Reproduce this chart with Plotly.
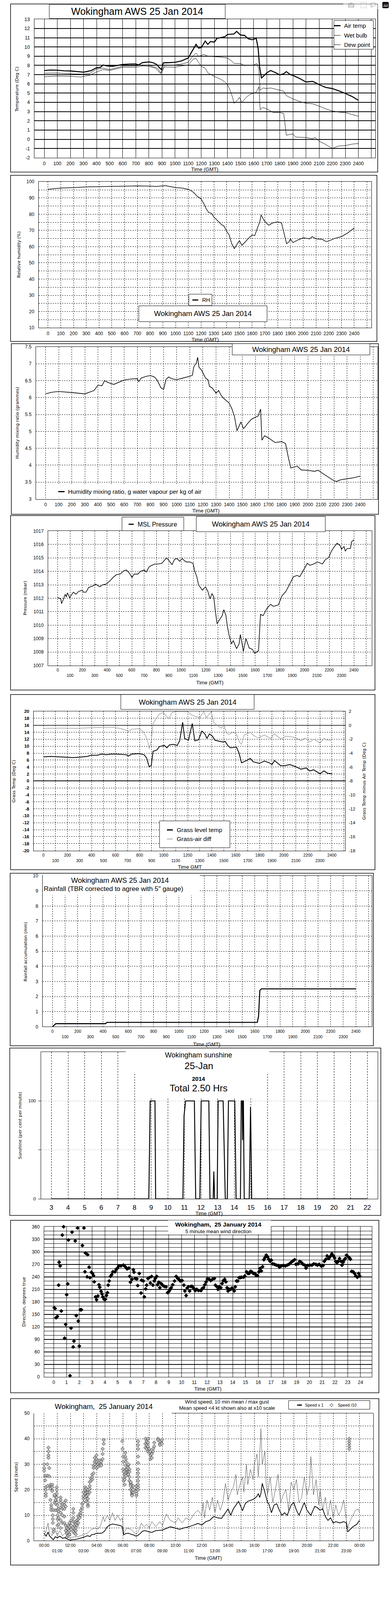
import plotly.graph_objects as go

FONT = "Liberation Sans, Arial, sans-serif"
TFONT = "DejaVu Sans, Verdana, sans-serif"
W, H = 1000, 5000          # reference coordinate system (positions below are read in it)
FIG_H = 4150               # rendered height (the photographed window shows about 4170 px)

# ======================= DATA =======================
hundreds = list(range(0, 2600, 100))

# Panel 1: temperatures (time HHMM, deg C)
air_obs = [(0,7.45),(50,7.5),(100,7.48),(150,7.42),(200,7.4),(250,7.35),(300,7.27),(330,7.35),(360,7.45),
           (400,7.75),(430,7.8),(450,8.04),(480,7.95),(520,7.9),(560,8.0),(600,8.1),(650,8.15),(700,8.16),
           (720,8.05),(750,8.3),(800,8.38),(830,8.3),(860,8.1),(880,7.75),(895,7.55),(910,8.28),(950,8.3),
           (1000,8.34),(1050,8.5),(1100,8.8),(1120,9.3),(1140,9.8),(1160,10.28),(1180,9.87),(1200,9.93),
           (1230,10.64),(1250,10.28),(1270,10.58),(1300,10.52),(1320,10.93),(1350,11.02),(1380,11.1),
           (1400,11.35),(1450,11.4),(1470,11.68),(1500,11.29),(1530,11.25),(1560,10.87),(1590,10.78),
           (1620,10.93),(1635,9.8),(1645,7.9),(1660,6.62),(1680,6.9),(1700,7.2),(1730,7.45),(1770,7.2),
           (1800,6.97),(1830,7.1),(1850,7.33),(1880,7.0),(1900,6.92),(1950,6.6),(2000,6.21),(2050,6.27),
           (2070,6.15),(2100,5.92),(2150,5.62),(2200,5.5),(2250,5.25),(2300,4.97),(2350,4.65),(2400,4.23)]
wet_obs = [(0,7.16),(100,7.18),(200,7.1),(300,7.05),(350,7.15),(400,7.6),(450,7.7),(500,7.55),(600,7.92),
           (700,7.95),(750,8.05),(800,8.0),(850,7.8),(870,7.6),(890,7.2),(920,8.05),(1000,8.04),(1050,8.15),
           (1100,8.34),(1130,8.9),(1160,9.34),(1180,8.98),(1220,9.2),(1250,9.0),(1300,8.95),(1350,8.9),
           (1400,8.8),(1430,8.5),(1450,8.22),(1500,8.2),(1530,7.98),(1600,8.05),(1625,8.2),(1640,7.6),
           (1650,5.3),(1670,5.56),(1700,5.5),(1730,5.56),(1800,5.32),(1830,5.2),(1850,4.73),(1900,4.38),
           (1950,4.1),(2000,3.9),(2050,3.85),(2100,3.6),(2150,3.3),(2200,3.08),(2250,2.95),(2300,2.9),
           (2350,2.7),(2400,2.5)]
dew_obs = [(0,6.78),(100,6.85),(200,6.82),(280,6.75),(350,6.95),(400,7.3),(450,7.55),(500,7.45),(600,7.8),
           (700,7.8),(750,7.95),(800,7.9),(850,7.7),(890,7.1),(920,7.85),(1000,7.8),(1050,7.95),(1100,8.05),
           (1140,8.7),(1160,8.75),(1180,8.3),(1200,7.9),(1230,7.7),(1250,7.2),(1300,6.8),(1350,6.5),
           (1380,6.2),(1400,5.95),(1420,5.3),(1440,4.5),(1450,3.9),(1480,4.3),(1490,4.55),(1510,4.0),
           (1540,4.5),(1570,4.85),(1600,5.0),(1620,5.1),(1640,5.7),(1650,3.2),(1670,3.45),(1700,3.3),
           (1750,2.9),(1800,2.9),(1830,2.8),(1850,0.45),(1900,0.6),(1920,0.25),(2000,0.2),(2050,0.07),
           (2070,0.2),(2100,-0.2),(2150,-0.55),(2200,-0.98),(2250,-0.72),(2300,-0.68),(2350,-0.52),(2400,-0.45)]
temp_ticks = list(range(-2, 14))

# Panel 2: relative humidity (%)
rh_obs = [(0,95.4),(100,96.1),(200,96.4),(300,96.8),(400,97.0),(500,97.1),(600,97.3),(700,97.4),(800,97.3),
          (850,97.1),(920,97.6),(950,97.1),(1000,96.4),(1050,96.1),(1100,95.3),(1130,94.1),(1150,92.7),
          (1170,91.0),(1200,89.4),(1220,86.7),(1240,83.3),(1260,81.0),(1280,80.6),(1300,78.3),(1330,75.9),
          (1360,73.6),(1380,72.6),(1400,69.5),(1420,67.2),(1440,61.8),(1460,58.8),(1480,61.1),(1500,63.7),
          (1520,60.8),(1540,62.5),(1580,65.8),(1600,67.2),(1620,66.8),(1640,71.2),(1660,75.3),(1670,79.6),
          (1690,76.6),(1710,74.6),(1730,73.2),(1760,74.6),(1800,75.3),(1830,74.6),(1850,68.5),(1870,61.8),
          (1890,63.1),(1900,64.8),(1920,62.5),(1950,63.8),(2000,65.5),(2050,64.8),(2070,66.2),(2100,64.8),
          (2150,64.5),(2180,63.1),(2200,63.5),(2250,65.2),(2300,66.2),(2350,68.5),(2400,71.5)]
rh_ticks = list(range(10, 101, 5))

# Panel 3: humidity mixing ratio (g/kg)
mr_obs = [(0,6.11),(50,6.16),(100,6.18),(200,6.15),(300,6.11),(350,6.18),(370,6.21),(400,6.37),(430,6.35),
          (450,6.5),(480,6.44),(520,6.39),(550,6.44),(600,6.52),(650,6.55),(700,6.56),(710,6.47),(730,6.58),
          (770,6.63),(800,6.65),(830,6.61),(850,6.52),(880,6.29),(900,6.24),(920,6.55),(940,6.61),(960,6.56),
          (1000,6.53),(1050,6.58),(1100,6.63),(1120,6.66),(1130,6.9),(1140,6.97),(1150,7.02),(1160,7.19),
          (1170,6.9),(1190,6.81),(1200,6.73),(1220,6.58),(1240,6.52),(1250,6.33),(1270,6.29),(1300,6.13),
          (1320,6.21),(1340,6.06),(1360,5.97),(1400,5.84),(1420,5.68),(1440,5.45),(1460,5.02),(1490,5.28),
          (1510,5.08),(1540,5.23),(1570,5.36),(1600,5.42),(1620,5.45),(1640,5.66),(1650,4.74),(1670,4.87),
          (1700,4.81),(1750,4.67),(1800,4.7),(1830,4.64),(1850,4.26),(1870,3.92),(1900,3.95),(1920,3.97),
          (1950,3.86),(2000,3.85),(2050,3.82),(2080,3.85),(2100,3.79),(2150,3.67),(2200,3.54),(2220,3.52),
          (2250,3.57),(2300,3.6),(2350,3.63),(2400,3.68)]
mr_ticks = [3, 3.5, 4, 4.5, 5, 5.5, 6, 6.5, 7, 7.5]

# Panel 4: MSL pressure (mbar)
p_obs = [(0,1012.05),(25,1011.95),(31,1011.6),(45,1011.9),(61,1012.3),(70,1012.1),(78,1012.4),(90,1012.2),
         (98,1012.0),(107,1012.2),(127,1012.45),(148,1012.3),(168,1012.5),(199,1012.6),(209,1012.45),
         (230,1012.45),(250,1012.8),(281,1012.9),(307,1013.05),(342,1012.85),(363,1013.0),(393,1013.05),
         (424,1013.3),(449,1013.55),(475,1013.75),(506,1013.8),(537,1014.05),(557,1014.1),(582,1013.85),
         (602,1013.55),(619,1013.8),(650,1013.8),(670,1014.0),(701,1014.1),(717,1013.95),(742,1014.35),
         (762,1014.45),(787,1014.55),(814,1014.55),(844,1014.6),(881,1015.0),(902,1014.8),(926,1014.5),
         (947,1014.9),(967,1014.95),(988,1014.75),(1008,1014.95),(1039,1014.7),(1070,1014.7),(1096,1014.6),
         (1111,1014.0),(1127,1013.6),(1141,1013.0),(1172,1012.6),(1197,1012.85),(1217,1012.5),(1234,1011.95),
         (1250,1012.35),(1264,1012.1),(1275,1011.2),(1291,1010.1),(1311,1010.4),(1332,1010.7),(1346,1011.15),
         (1363,1010.7),(1373,1010.0),(1387,1009.3),(1408,1008.6),(1422,1008.85),(1449,1008.25),(1469,1008.6),
         (1480,1009.3),(1504,1008.05),(1525,1009.0),(1551,1008.3),(1578,1008.2),(1596,1007.9),(1627,1008.1),
         (1643,1010.8),(1664,1010.7),(1695,1011.25),(1725,1011.55),(1746,1011.4),(1787,1011.5),(1818,1012.2),
         (1848,1012.5),(1889,1013.2),(1910,1013.6),(1940,1013.7),(1961,1013.6),(1992,1014.1),(2022,1014.6),
         (2043,1014.45),(2074,1014.55),(2105,1014.7),(2145,1014.55),(2166,1014.85),(2197,1015.05),
         (2217,1015.5),(2238,1015.8),(2264,1016.1),(2289,1015.9),(2299,1015.65),(2320,1015.85),(2330,1015.5),
         (2344,1015.7),(2371,1015.7),(2381,1016.2),(2400,1016.35)]
p_ticks = list(range(1007, 1018))

# Panel 5: grass temperature and grass-air difference (deg C)
grass_obs = [(0,6.94),(59,7.04),(164,6.88),(248,6.71),(312,6.88),(364,7.04),(396,7.38),(448,7.38),(480,7.71),
             (522,7.54),(564,7.71),(606,7.71),(690,7.54),(707,7.14),(733,7.71),(796,7.87),(838,7.54),(859,6.55),
             (880,4.05),(897,4.49),(912,8.54),(943,8.87),(964,9.87),(1006,10.2),(1027,9.54),(1048,10.37),
             (1080,10.53),(1112,10.2),(1133,11.53),(1143,13.52),(1158,16.85),(1175,12.2),(1206,11.7),(1238,16.51),
             (1259,11.53),(1291,11.86),(1318,14.35),(1343,13.52),(1360,12.2),(1381,13.52),(1406,12.86),
             (1427,11.7),(1491,11.2),(1512,11.37),(1533,10.2),(1554,9.54),(1606,9.7),(1627,8.04),(1648,5.22),
             (1690,5.88),(1722,6.48),(1743,5.55),(1796,5.05),(1838,5.71),(1880,5.22),(1901,4.72),(1922,5.88),
             (1975,4.38),(2006,4.38),(2048,4.72),(2091,4.22),(2143,3.39),(2185,3.72),(2217,2.89),(2248,3.22),
             (2301,2.06),(2333,2.89),(2364,2.23),(2400,2.06)]
diff_obs = [(0,-0.44),(164,-0.41),(270,-0.44),(480,-0.32),(522,-0.27),(585,-0.32),(648,-0.49),(690,-0.74),
            (707,-0.9),(733,-0.57),(796,-0.49),(827,-0.82),(855,-1.73),(870,-2.56),(880,-3.39),(897,-2.23),
            (912,0.26),(943,1.09),(964,1.58),(995,1.83),(1027,1.25),(1044,0.92),(1069,1.83),(1112,2.0),
            (1154,2.0),(1196,2.0),(1238,1.42),(1269,1.25),(1301,1.09),(1333,2.0),(1354,1.09),(1396,1.92),
            (1417,0.42),(1448,-0.07),(1480,-0.41),(1501,0.09),(1522,-1.07),(1543,-1.32),(1575,-0.99),
            (1606,-1.24),(1620,-1.98),(1637,-2.56),(1648,-2.73),(1669,-1.4),(1690,-1.24),(1722,-0.99),
            (1743,-1.4),(1785,-1.82),(1838,-1.4),(1890,-1.9),(1922,-1.24),(1975,-1.98),(2017,-1.57),
            (2059,-1.65),(2101,-1.82),(2143,-2.23),(2175,-1.82),(2217,-2.4),(2248,-1.98),(2301,-2.56),
            (2333,-1.9),(2364,-2.15),(2400,-2.15)]
grass_ticks = list(range(-20, 21, 2))
diff_ticks = list(range(-18, 3, 2))

# Panel 6: rainfall accumulation (mm)
rain_obs = [(0,0.0),(12,0.1),(26,0.2),(420,0.2),(430,0.29),(1620,0.29),(1630,0.7),(1640,2.4),(1652,2.51),(2400,2.51)]
rain_ticks = list(range(0, 11))

# Panel 7: sunshine (per cent per minute, hours GMT)
sun_obs = [(3.0,0),(8.86,0),(8.94,100),(9.23,100),(9.27,0),(10.91,0),(10.98,85),(11.07,100),(11.6,100),
           (11.68,0),(11.93,0),(12.01,100),(12.47,100),(12.54,0),(12.73,0),(12.77,28),(12.82,0),(12.97,0),
           (13.03,100),(13.33,100),(13.46,0),(13.58,0),(13.65,100),(14.03,100),(14.11,0),(14.37,0),
           (14.42,100),(14.48,100),(14.5,60),(14.52,100),(14.55,100),(14.6,0),(14.9,0),(14.98,94),(15.05,0),(22.0,0)]
sun_hours = list(range(3, 23))

# Panel 8: 5-minute mean wind direction (hours, degrees true)
dir_obs = [(0.04,166),(0.1,164),(0.18,142),(0.28,145),(0.38,220),(0.42,275),(0.5,266),(0.59,158),(0.67,340),
           (0.77,360),(0.85,93),(0.93,126),(1.01,197),(1.09,223),(1.15,328),(1.27,3),(1.35,117),(1.43,347),
           (1.52,72),(1.58,86),(1.68,326),(1.76,147),(1.86,357),(1.92,134),(2.0,74),(2.08,161),(2.16,161),
           (2.24,315),(2.36,357),(2.44,252),(2.48,297),(2.61,240),(2.65,293),(2.77,263),(2.83,238),(2.95,251),
           (3.03,248),(3.11,243),(3.17,228),(3.27,192),(3.35,185),(3.45,194),(3.54,221),(3.6,215),(3.7,205),
           (3.78,199),(3.84,192),(3.94,186),(4.04,186),(4.12,195),(4.2,202),(4.26,220),(4.34,230),(4.44,241),
           (4.53,245),(4.63,252),(4.79,252),(4.89,258),(4.99,261),(5.09,266),(5.25,266),(5.45,268),(5.6,264),
           (5.74,259),(5.88,261),(5.94,241),(6.0,227),(6.12,234),(6.22,257),(6.28,251),(6.38,236),(6.5,235),
           (6.57,219),(6.69,248),(6.83,201),(6.87,232),(7.01,230),(7.09,192),(7.19,211),(7.27,220),(7.37,236),
           (7.47,238),(7.56,225),(7.66,241),(7.76,220),(7.86,230),(7.94,236),(8.06,241),(8.12,221),(8.22,227),
           (8.3,214),(8.4,224),(8.51,220),(8.65,217),(8.79,216),(8.91,202),(9.01,205),(9.11,210),(9.19,214),
           (9.31,221),(9.45,230),(9.58,241),(9.7,236),(9.8,234),(9.9,230),(10.04,231),(10.18,220),(10.26,206),
           (10.36,195),(10.44,213),(10.53,216),(10.63,206),(10.73,217),(10.83,217),(10.97,212),(11.07,207),
           (11.19,210),(11.33,207),(11.52,207),(11.62,212),(11.72,214),(11.82,221),(11.92,228),(12.02,235),
           (12.16,234),(12.28,231),(12.42,234),(12.57,236),(12.65,220),(12.75,217),(12.85,210),(12.95,216),
           (13.07,214),(13.17,224),(13.27,231),(13.37,234),(13.47,228),(13.56,214),(13.64,206),(13.74,210),
           (13.84,210),(13.94,213),(14.04,210),(14.12,206),(14.2,216),(14.3,230),(14.4,230),(14.5,238),
           (14.59,238),(14.69,239),(14.85,239),(14.95,242),(15.09,252),(15.19,248),(15.29,248),(15.39,253),
           (15.49,252),(15.62,248),(15.74,248),(15.84,243),(15.94,243),(16.06,252),(16.14,260),(16.24,254),
           (16.34,264),(16.44,281),(16.53,286),(16.63,292),(16.73,288),(16.83,282),(16.93,277),(17.03,280),
           (17.13,271),(17.27,270),(17.41,268),(17.56,267),(17.66,263),(17.8,266),(17.96,267),(18.12,266),
           (18.26,268),(18.4,270),(18.55,274),(18.71,278),(18.85,281),(18.95,270),(19.11,271),(19.25,277),
           (19.39,274),(19.5,270),(19.64,268),(19.74,261),(19.88,267),(20.04,268),(20.2,268),(20.34,271),
           (20.5,270),(20.63,268),(20.77,270),(20.93,266),(21.07,267),(21.17,277),(21.29,282),(21.39,290),
           (21.52,284),(21.64,289),(21.76,295),(21.88,290),(21.98,285),(22.06,277),(22.16,274),(22.26,277),
           (22.36,284),(22.48,277),(22.55,268),(22.65,275),(22.71,280),(22.81,284),(22.91,292),(23.03,288),
           (23.15,285),(23.21,282),(23.31,253),(23.43,252),(23.54,248),(23.64,242),(23.76,239),(23.86,248),
           (23.94,242)]
hours24 = list(range(0, 25))

# Panel 9: wind speed (hours, knots)
mean_obs = [(0.0,2.9),(0.15,1.8),(0.3,3.4),(0.4,2.0),(0.55,1.2),(0.7,0.4),(0.85,1.6),(1.0,1.2),(1.2,1.8),
            (1.4,1.0),(1.6,1.2),(1.8,0.6),(2.0,0.3),(2.2,0.5),(2.4,0.5),(2.6,0.8),(2.8,1.1),(3.0,1.4),(3.3,2.0),
            (3.5,1.7),(3.6,2.4),(3.8,2.5),(4.0,3.0),(4.2,2.9),(4.4,3.0),(4.6,3.8),(4.8,5.5),(5.0,6.2),(5.2,6.6),
            (5.5,6.3),(5.8,6.0),(5.95,5.5),(6.05,2.4),(6.2,2.8),(6.4,3.0),(6.6,2.6),(6.8,2.3),(7.0,1.8),(7.1,2.0),
            (7.3,2.8),(7.5,3.8),(7.7,4.0),(8.0,3.5),(8.2,3.3),(8.5,4.0),(9.0,4.2),(9.3,4.8),(9.6,5.5),(10.0,5.0),
            (10.3,4.5),(10.6,5.0),(11.0,5.5),(11.3,6.0),(11.7,6.8),(12.0,6.2),(12.3,7.5),(12.6,8.0),(12.9,9.5),
            (13.2,9.0),(13.5,8.8),(13.8,11.0),(14.0,12.5),(14.2,10.0),(14.4,12.5),(14.6,14.0),(14.8,15.5),
            (15.0,13.0),(15.1,11.8),(15.3,14.5),(15.5,15.5),(15.8,16.0),(16.0,16.5),(16.2,17.5),(16.3,18.5),
            (16.4,17.0),(16.5,18.5),(16.6,22.5),(16.8,19.0),(17.0,15.0),(17.1,14.5),(17.3,11.0),(17.5,14.0),
            (17.7,14.5),(17.9,12.0),(18.1,10.0),(18.3,11.0),(18.5,10.0),(18.8,14.0),(19.0,15.0),(19.2,12.0),
            (19.4,10.0),(19.6,12.5),(19.8,15.0),(20.0,12.0),(20.3,10.0),(20.6,13.5),(20.8,13.0),(21.0,12.0),
            (21.2,12.5),(21.4,9.5),(21.6,8.0),(21.8,9.0),(22.0,7.0),(22.2,7.5),(22.5,7.0),(22.8,7.5),(23.0,7.0),
            (23.1,3.5),(23.3,4.5),(23.5,5.5),(23.8,6.5),(24.0,8.0)]
gust_obs = [(0.0,4),(0.1,3),(0.3,7),(0.4,3),(0.6,2),(0.8,5),(1.0,2),(1.2,4),(1.4,2),(1.6,3),(1.8,1.5),(2.0,1),
            (2.2,1.5),(2.5,1.5),(2.8,2),(3.0,2.5),(3.3,3),(3.6,4.5),(3.9,5),(4.1,4.5),(4.3,6),(4.5,9.5),(4.6,7.5),
            (4.8,10),(5.0,8),(5.2,11),(5.4,8),(5.6,10),(5.8,8),(5.95,9),(6.05,3),(6.3,5),(6.6,4.5),(6.8,3.5),
            (7.0,2.5),(7.2,4),(7.4,7),(7.6,5.5),(7.8,6.5),(8.0,5),(8.2,7.5),(8.5,5.5),(8.8,7.5),(9.0,6),(9.3,10.5),
            (9.6,8),(10.0,7),(10.2,9),(10.5,7),(10.8,9),(11.1,8),(11.4,10.5),(11.7,12),(12.0,10),(12.1,15),
            (12.2,9),(12.4,16),(12.6,12),(12.8,17),(13.0,11),(13.2,16),(13.4,12),(13.6,15),(13.8,22.5),(14.0,16),
            (14.2,19),(14.4,21),(14.6,26),(14.7,18),(14.9,22),(15.1,25),(15.2,19),(15.4,30),(15.5,22),(15.7,28),
            (15.9,24),(16.0,30),(16.2,34),(16.3,25),(16.45,38),(16.5,44),(16.6,30),(16.8,35),(16.9,22),(17.0,18),
            (17.2,25),(17.4,15),(17.6,20),(17.8,26),(18.0,15),(18.2,18),(18.4,20),(18.6,12),(18.8,23),(19.0,20),
            (19.2,24),(19.4,15),(19.6,17),(19.8,25),(20.0,18),(20.2,22),(20.3,33),(20.5,18),(20.7,24),(20.9,14),
            (21.0,20),(21.2,12),(21.4,17),(21.6,10),(21.8,16),(22.0,9),(22.2,14),(22.4,10),(22.6,12),(22.8,16),
            (23.0,8),(23.1,5),(23.3,8),(23.5,10),(23.7,12),(23.9,12.5),(24.0,11)]
x10_obs = [(0.00,[30,28.5,27.5]),(0.08,[25.5,23.7]),(0.13,[21,20,18.5,17.5]),(0.25,[21.5,25.5,30]),
           (0.33,[36.5,35,33.5,32.5]),(0.39,[28.5,25.3]),(0.48,[22,21,20.5,16]),(0.54,[14,13,12]),
           (0.62,[22,21,19.5]),(0.66,[10,8.5,7]),(0.71,[4.5,3.5,12]),(0.79,[15,17.5,18]),(0.87,[16,14.5,12]),
           (0.96,[21,20,18.5,17,15]),(1.02,[14,12,10,8.5,6]),(1.10,[12.5,11.5,9,6.5]),
           (1.25,[17,16,15,13,11,8,5]),(1.39,[14,12.5,10,7]),(1.54,[15,14,12.5,9.5,7]),(1.64,[15.8,13.5,6,4]),
           (1.73,[5,3,1.5]),(1.83,[6,4.5,3.5,2]),(1.93,[7,5.5,4,2.5]),(2.06,[8,6,4.5]),
           (2.22,[12.5,11,9,7.5,5,3.5]),(2.33,[7,6,4.5,3]),(2.41,[7.5,6.5,5,4,2.5]),(2.50,[6,8,7]),
           (2.60,[7,8.5,9.5]),(2.70,[9,10.5]),(2.79,[10,11,12]),(2.89,[13,14.5]),(2.99,[15,16.5,17.5,19]),
           (3.12,[17,18.5,20,21]),(3.22,[17.5,19,20.5,15.5]),(3.33,[14,13.5,15,16.5,18,19,20]),
           (3.47,[19,20.5,21.5,23]),(3.56,[23.5,24.5]),(3.66,[24,25,26]),(3.76,[26.5,28.5,29.5]),
           (3.85,[30,31,32.5]),(3.99,[33.5,32,31,29.5,28.5]),(4.10,[30,31.5,29]),(4.24,[31.5,30,29.5]),
           (4.34,[30,31,29.5]),(4.45,[32,34,36]),(4.53,[38,39.5]),(5.95,[39]),(5.97,[36]),(6.01,[33,31,28]),
           (6.05,[27,24.5,23.5]),(6.13,[26,25,24,22]),(6.17,[34.5,33]),(6.22,[32,31,29.5,28,26.5,25.5]),
           (6.30,[27,28]),(6.40,[29.5,30,28.5,27,26]),(6.49,[28,27,25,23.5]),(6.59,[22.5,22,23,21.5,20]),
           (6.69,[19,18.5,18,17.7,19.5,20.5]),(6.78,[19,20,21.5]),(7.03,[17.7,18.5,19.5,20.5,21.5]),
           (7.15,[20,21,22,23.5,25,26.5,28,30.5,33,36,37.5,39]),(7.71,[40,38,36.5]),(7.80,[39,37.5,36]),
           (7.90,[40,38.5,37,35]),(8.00,[36,34.5]),(8.09,[35,33.5,32]),(8.19,[34,32.5]),(8.29,[36,35]),
           (8.38,[38.5,37]),(8.67,[40,39.5]),(8.81,[39,38,37.5]),(8.96,[39.5,38]),(23.22,[40,39,38,37,36])]
speed_ticks = list(range(0, 51, 5))

# ======================= HELPERS =======================
def xs(obs): return [p[0] for p in obs]
def ys(obs): return [p[1] for p in obs]

layout = dict(width=W, height=FIG_H, margin=dict(l=0, r=0, t=0, b=0), paper_bgcolor='white',
              plot_bgcolor='rgba(0,0,0,0)', showlegend=False, font=dict(family=FONT, size=13, color='black'))
shapes, annotations, traces = [], [], []

def axkey(p, n): return p + ('axis' if n == 1 else 'axis%d' % n)
def ref(p, n): return p if n == 1 else '%s%d' % (p, n)

def base(size=12):
    return dict(showline=True, linecolor='black', linewidth=1, mirror=True, ticks='', showgrid=True,
                gridcolor='black', gridwidth=1, zeroline=False, fixedrange=True,
                tickfont=dict(family=FONT, size=size, color='black'))

def set_axes(n, px0, px1, py0, py1, xr, yr, xkw, ykw):
    xa = base(); xa.update(domain=[px0 / W, px1 / W], range=xr, anchor=ref('y', n)); xa.update(xkw)
    ya = base(); ya.update(domain=[1 - py1 / H, 1 - py0 / H], range=yr, anchor=ref('x', n)); ya.update(ykw)
    layout[axkey('x', n)] = xa
    layout[axkey('y', n)] = ya

def text(x, y, s, size=13, family=FONT, xanchor='center', angle=0):
    annotations.append(dict(x=x / W, y=1 - y / H, xref='paper', yref='paper', text=s, showarrow=False,
                            xanchor=xanchor, yanchor='middle', textangle=angle,
                            font=dict(family=family, size=size, color='black')))

def rect(x0, y0, x1, y1, fill='rgba(0,0,0,0)', lw=1, layer='above'):
    shapes.append(dict(type='rect', xref='paper', yref='paper', x0=x0 / W, x1=x1 / W, y0=1 - y1 / H,
                       y1=1 - y0 / H, fillcolor=fill, layer=layer,
                       line=dict(color='black', width=lw)))

def hline(x0, x1, y, lw, color='black'):
    shapes.append(dict(type='line', xref='paper', yref='paper', x0=x0 / W, x1=x1 / W, y0=1 - y / H,
                       y1=1 - y / H, layer='above', line=dict(color=color, width=lw)))

def ytitle(x, y, s):
    text(x, y, s, size=11, family=TFONT, angle=-90)

def hund_labels(two_rows=False):
    out = []
    for v in hundreds:
        if v > 2400:
            out.append('')
        elif two_rows and (v // 100) % 2 == 1:
            out.append('<br>%d' % v)
        else:
            out.append(str(v))
    return out

XSTAND = 3
YSTAND = 8
TWO_ROW_FONT = dict(family=FONT, size=10.5, color='black')

# ======================= PANEL 1 =======================
rect(27, 4, 966, 524, lw=1.5, layer='below')
set_axes(1, 88, 960, 51, 480, [-75, 2530], [-2, 13],
         dict(tickmode='array', tickvals=hundreds, ticktext=hund_labels(), ticklabelstandoff=XSTAND,
              tickfont=dict(family=FONT, size=12.5, color='black')),
         dict(tickmode='array', tickvals=temp_ticks, ticktext=[str(v) for v in temp_ticks], gridwidth=2,
              ticklabelstandoff=YSTAND, tickfont=dict(family=FONT, size=12.5, color='black')))
traces.append(go.Scatter(x=xs(air_obs), y=ys(air_obs), mode='lines', line=dict(color='black', width=2.6), xaxis='x', yaxis='y', name='Air temp'))
traces.append(go.Scatter(x=xs(wet_obs), y=ys(wet_obs), mode='lines', line=dict(color='black', width=1), xaxis='x', yaxis='y', name='Wet bulb'))
traces.append(go.Scatter(x=xs(dew_obs), y=ys(dew_obs), mode='lines', line=dict(color='black', width=1), xaxis='x', yaxis='y', name='Dew point'))
rect(126, 5, 576, 49, fill='white')
text(351, 27, 'Wokingham AWS 25 Jan 2014', size=25)
rect(854, 55, 955, 144, fill='white')
for yy, lab, lw in [(71, 'Air temp', 3), (101, 'Wet bulb', 1), (130, 'Dew point', 1)]:
    hline(854, 871, yy, lw)
    text(878, yy, lab, size=15, xanchor='left')
text(524, 515, 'Time (GMT)', size=13)
ytitle(44, 268, 'Temperature (Deg C)')

# ======================= PANEL 2 =======================
rect(27, 534, 964, 1048, lw=1.5, layer='below')
set_axes(2, 99, 950, 554, 1006, [-73, 2535], [10, 100],
         dict(tickmode='array', tickvals=hundreds, ticktext=hund_labels(), griddash='dot', ticklabelstandoff=XSTAND),
         dict(tickmode='array', tickvals=rh_ticks, ticktext=[str(v) if v % 10 == 0 else '' for v in rh_ticks],
              griddash='dot', ticklabelstandoff=YSTAND))
traces.append(go.Scatter(x=xs(rh_obs), y=ys(rh_obs), mode='lines', line=dict(color='black', width=1.5), xaxis='x2', yaxis='y2', name='RH'))
rect(483, 902, 542, 937, fill='white')
hline(492, 507, 920, 3)
text(515, 920, 'RH', size=14, xanchor='left')
rect(355, 938, 683, 987, fill='white')
text(519, 962, 'Wokingham AWS 25 Jan 2014', size=18.5)
text(525, 1043, 'Time (GMT)', size=13)
ytitle(48, 780, 'Relative humidity (%)')

# ======================= PANEL 3 =======================
rect(29, 1055, 968, 1583, lw=1.5, layer='below')
set_axes(3, 92, 966, 1065, 1536, [-73, 2533], [3, 7.5],
         dict(tickmode='array', tickvals=hundreds, ticktext=hund_labels(), griddash='dot', ticklabelstandoff=XSTAND),
         dict(tickmode='array', tickvals=mr_ticks, ticktext=[('%g' % v) for v in mr_ticks],
              griddash='dot', ticklabelstandoff=YSTAND))
traces.append(go.Scatter(x=xs(mr_obs), y=ys(mr_obs), mode='lines', line=dict(color='black', width=1.6), xaxis='x3', yaxis='y3', name='Humidity mixing ratio'))
rect(594, 1055, 946, 1090, fill='white')
text(770, 1073, 'Wokingham AWS 25 Jan 2014', size=18.5)
rect(143, 1493, 537, 1532, fill='white', lw=0)
hline(149, 165, 1513, 3)
text(172, 1513, 'Humidity mixing ratio, g water vapour per kg of air', size=15.5, xanchor='left')
text(527, 1572, 'Time (GMT)', size=13)
ytitle(44, 1300, 'Humidity mixing ratio (grammes)')

# ======================= PANEL 4 =======================
rect(27, 1587, 959, 2127, lw=1.5, layer='below')
set_axes(4, 123, 951, 1635, 2051, [-78, 2545], [1007, 1017],
         dict(tickmode='array', tickvals=hundreds, ticktext=hund_labels(True), griddash='dot',
              ticklabelstandoff=2, tickfont=TWO_ROW_FONT),
         dict(tickmode='array', tickvals=p_ticks, ticktext=[str(v) for v in p_ticks],
              griddash='dot', ticklabelstandoff=YSTAND))
traces.append(go.Scatter(x=xs(p_obs), y=ys(p_obs), mode='lines', line=dict(color='black', width=1.6), xaxis='x4', yaxis='y4', name='MSL Pressure'))
rect(312, 1592, 470, 1634, fill='white')
hline(329, 342, 1614, 3)
text(350, 1614, 'MSL Pressure', size=16, xanchor='left')
rect(502, 1590, 832, 1637, fill='white')
text(667, 1613, 'Wokingham AWS 25 Jan 2014', size=18.5)
text(537, 2104, 'Time (GMT)', size=13)
ytitle(65, 1842, 'Pressure (mbar)')

# ======================= PANEL 5 =======================
rect(27, 2141, 959, 2683, lw=1.5, layer='below')
set_axes(5, 86, 883, 2193, 2624, [-82, 2511], [-20, 20],
         dict(tickmode='array', tickvals=hundreds, ticktext=hund_labels(True), griddash='dot',
              ticklabelstandoff=2, tickfont=TWO_ROW_FONT),
         dict(tickmode='array', tickvals=grass_ticks, ticktext=['<b>%d</b>' % v for v in grass_ticks],
              griddash='dot', ticklabelstandoff=YSTAND, zeroline=True, zerolinecolor='black', zerolinewidth=1.5,
              tickfont=dict(family=FONT, size=11.5, color='black')))
layout['yaxis10'] = dict(overlaying='y5', side='right', anchor='x5', range=[-18, 2], tickmode='array',
                         tickvals=diff_ticks, ticktext=[str(v) for v in diff_ticks], showgrid=False,
                         showline=False, zeroline=False, ticks='', fixedrange=True, ticklabelstandoff=YSTAND,
                         tickfont=dict(family=FONT, size=11.5, color='black'))
shapes.append(dict(type='line', xref='x5 domain', yref='y10', x0=0, x1=1, y0=0, y1=0, layer='below',
                   line=dict(color='black', width=1.5)))
traces.append(go.Scatter(x=xs(diff_obs), y=ys(diff_obs), mode='lines', line=dict(color='#8c8c8c', width=1.2), xaxis='x5', yaxis='y10', name='Grass-air diff'))
traces.append(go.Scatter(x=xs(grass_obs), y=ys(grass_obs), mode='lines', line=dict(color='black', width=2), xaxis='x5', yaxis='y5', name='Grass level temp'))
rect(309, 2141, 650, 2187, fill='white')
text(480, 2164, 'Wokingham AWS 25 Jan 2014', size=18.5)
rect(408, 2532, 588, 2615, fill='white')
hline(427, 442, 2560, 3)
text(450, 2560, 'Grass level temp', size=15.5, xanchor='left')
hline(427, 442, 2588, 1.5, '#8c8c8c')
text(450, 2588, 'Grass-air diff', size=15.5, xanchor='left')
text(485, 2675, 'Time GMT', size=13)
ytitle(36, 2409, 'Grass Temp (Deg C)')
ytitle(932, 2409, 'Grass Temp minus Air Temp (Deg C)')

# ======================= PANEL 6 =======================
rect(26, 2694, 955, 3228, lw=1.5, layer='below')
set_axes(6, 109, 951, 2702, 3169, [-78, 2526], [0, 10],
         dict(tickmode='array', tickvals=hundreds, ticktext=hund_labels(True), griddash='dot',
              ticklabelstandoff=2, tickfont=TWO_ROW_FONT),
         dict(tickmode='array', tickvals=rain_ticks, ticktext=[str(v) for v in rain_ticks],
              griddash='dot', ticklabelstandoff=YSTAND))
traces.append(go.Scatter(x=xs(rain_obs), y=ys(rain_obs), mode='lines', line=dict(color='black', width=2.6), xaxis='x6', yaxis='y6', name='Rainfall'))
rect(110, 2700, 511, 2762, fill='white', lw=0)
text(307, 2716, 'Wokingham AWS 25 Jan 2014', size=18.5)
text(110, 2742, 'Rainfall (TBR corrected to agree with 5" gauge)', size=17, xanchor='left')
text(529, 3223, 'Time (GMT)', size=13)
ytitle(65, 2937, 'Rainfall accumulation (mm)')

# ======================= PANEL 7 =======================
rect(25, 3235, 974, 3753, lw=1.5, layer='below')
set_axes(7, 105, 966, 3247, 3702, [2.376, 22.63], [0, 150],
         dict(tickmode='array', tickvals=sun_hours, ticktext=[str(v) for v in sun_hours], griddash='4px,3px',
              ticklabelstandoff=6, tickfont=dict(family=FONT, size=17, color='black')),
         dict(tickmode='array', tickvals=[0, 50, 100], ticktext=['0', '', '100'], gridcolor='#b4b4b4',
              griddash='dot', ticks='outside', ticklen=6, tickcolor='black', ticklabelstandoff=4,
              tickfont=dict(family=FONT, size=11.5, color='black')))
traces.append(go.Scatter(x=xs(sun_obs), y=ys(sun_obs), mode='lines', line=dict(color='black', width=2.4), xaxis='x7', yaxis='y7', name='Sunshine'))
shapes.append(dict(type='rect', xref='x7', yref='paper', x0=7.48, x1=16.1, y0=1 - 3311 / H, y1=1 - 3238 / H,
                   fillcolor='white', line=dict(width=0), layer='above'))
shapes.append(dict(type='rect', xref='x7', yref='paper', x0=8.08, x1=15.92, y0=1 - 3389 / H, y1=1 - 3310 / H,
                   fillcolor='white', line=dict(width=0), layer='above'))
text(508, 3257, 'Wokingham sunshine', size=18)
text(508, 3290, '25-Jan', size=24)
text(508, 3330, '<b>2014</b>', size=15)
text(508, 3359, 'Total 2.50 Hrs', size=24)
text(535, 3747, 'Time (GMT)', size=13)
ytitle(52, 3475, 'Sunshine (per cent per minute)')

# ======================= PANEL 8 =======================
rect(27, 3768, 969, 4302, lw=1.5, layer='below')
set_axes(8, 113, 951, 3788, 4253, [-0.75, 24.89], [0, 360],
         dict(tickmode='array', tickvals=hours24, ticktext=[str(v) for v in hours24], ticklabelstandoff=XSTAND),
         dict(tickmode='linear', tick0=0, dtick=30, gridwidth=2.2, ticklabelstandoff=YSTAND,
              minor=dict(dtick=10, showgrid=True, gridcolor='black', gridwidth=1, ticks='')))
traces.append(go.Scatter(x=xs(dir_obs), y=ys(dir_obs), mode='markers', marker=dict(symbol='diamond', size=8, color='black', line=dict(width=0)), xaxis='x8', yaxis='y8', cliponaxis=False, name='Wind direction'))
rect(430, 3768, 693, 3812, fill='white', lw=0)
text(558, 3781, '<b>Wokingham,  25 January 2014</b>', size=15.5)
text(558, 3802, '5 minute mean wind direction', size=13)
text(532, 4290, 'Time (GMT)', size=13)
ytitle(61, 4021, 'Direction, degrees true')

# ======================= PANEL 9 =======================
rect(27, 4320, 969, 4835, lw=1.5, layer='below')
hour_labels = [('%02d:00' % (h % 24)) if h % 2 == 0 else ('<br>%02d:00' % h) for h in hours24]
set_axes(9, 87, 955, 4365, 4760, [-0.77, 25.06], [0, 50],
         dict(tickmode='array', tickvals=hours24, ticktext=hour_labels, griddash='dot', mirror=False,
              ticklabelstandoff=2, tickfont=TWO_ROW_FONT),
         dict(tickmode='array', tickvals=speed_ticks, ticktext=[str(v) if v % 10 == 0 else '' for v in speed_ticks],
              griddash='dot', ticklabelstandoff=YSTAND))
shapes.append(dict(type='line', xref='paper', yref='paper', x0=439 / W, x1=955 / W, y0=1 - 4365 / H,
                   y1=1 - 4365 / H, line=dict(color='black', width=1), layer='above'))
traces.append(go.Scatter(x=xs(gust_obs), y=ys(gust_obs), mode='lines', line=dict(color='#505050', width=1), xaxis='x9', yaxis='y9', name='Gust'))
traces.append(go.Scatter(x=xs(mean_obs), y=ys(mean_obs), mode='lines', line=dict(color='black', width=1.8), xaxis='x9', yaxis='y9', name='Speed x 1'))
x10_h = [h for h, vals in x10_obs for _ in vals]
x10_v = [v for h, vals in x10_obs for v in vals]
traces.append(go.Scatter(x=x10_h, y=x10_v, mode='markers', marker=dict(symbol='diamond', size=7, color='#c0c0c0', line=dict(color='black', width=0.8)), xaxis='x9', yaxis='y9', name='Speed /10'))
text(265, 4344, 'Wokingham,  25 January 2014', size=18.5)
text(580, 4330, 'Wind speed, 10 min mean / max gust', size=13)
text(580, 4349, 'Mean speed &lt;4 kt shown also at x10 scale', size=13)
rect(738, 4326, 946, 4353, fill='white')
hline(760, 772, 4340, 3)
text(778, 4340, 'Speed x 1', size=10.5, xanchor='left')
text(862, 4340, 'Speed /10', size=10.5, xanchor='left')
dx, dy = 4 / W, 5 / H
cx, cy = 848 / W, 1 - 4340 / H
shapes.append(dict(type='path', xref='paper', yref='paper', layer='above',
                   path='M %f,%f L %f,%f L %f,%f L %f,%f Z' % (cx - dx, cy, cx, cy + dy, cx + dx, cy, cx, cy - dy),
                   line=dict(color='black', width=1), fillcolor='white'))
text(533, 4813, 'Time (GMT)', size=13)
ytitle(42, 4563, 'Speed (knots)')

layout['shapes'] = shapes
layout['annotations'] = annotations
fig = go.Figure(data=traces, layout=layout)
fig.write_html("out.html", post_script="document.body.style.margin='0px';")
